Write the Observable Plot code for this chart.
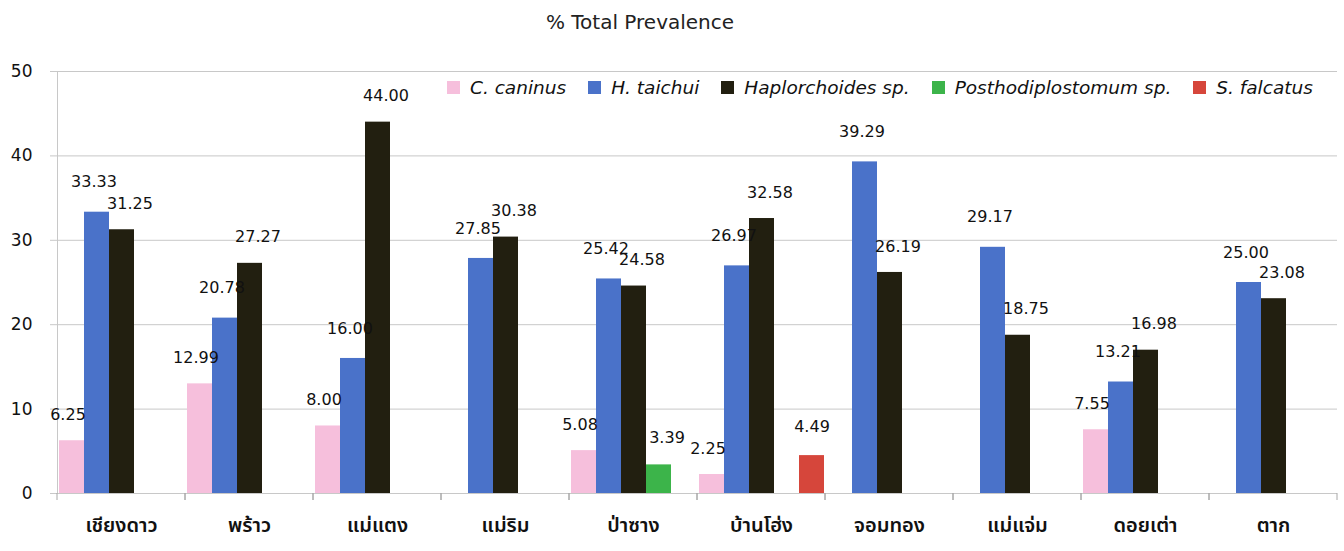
<!DOCTYPE html>
<html>
<head>
<meta charset="utf-8">
<script src="https://cdn.jsdelivr.net/npm/d3@7"></script>
<script src="https://cdn.jsdelivr.net/npm/@observablehq/plot@0.6"></script>
<style>
  body { margin: 0; background: #fff; }
  #wrap { position: relative; width: 1344px; height: 551px; overflow: hidden; }
  #title { position: absolute; top: 10px; left: 0; width: 1280px; text-align: center;
           font: 20px "DejaVu Sans", sans-serif; color: #222; }
  #legend { position: absolute; top: 77px; left: 447px; display: flex; gap: 22px;
            font: italic 18.5px "DejaVu Sans", sans-serif; color: #111; white-space: nowrap; }
  #legend .item { display: flex; align-items: center; }
  #legend .sw { width: 13px; height: 13px; margin-right: 10px; display: inline-block; }
  #chart { position: absolute; top: 0; left: 0; }
</style>
</head>
<body>
<div id="wrap">
  <div id="chart"></div>
  <div id="title">% Total Prevalence</div>
  <div id="legend"></div>
</div>
<script>
const districts = ["เชียงดาว", "พร้าว", "แม่แตง", "แม่ริม", "ป่าซาง", "บ้านโฮ่ง", "จอมทอง", "แม่แจ่ม", "ดอยเต่า", "ตาก"];
const series = ["C. caninus", "H. taichui", "Haplorchoides sp.", "Posthodiplostomum sp.", "S. falcatus"];
const colors = ["#f6bfdc", "#4a72c9", "#221f10", "#3cb44a", "#d6463b"];

const cCaninus          = [6.25, 12.99, 8.00, null, 5.08, 2.25, null, null, 7.55, null];
const hTaichui          = [33.33, 20.78, 16.00, 27.85, 25.42, 26.97, 39.29, 29.17, 13.21, 25.00];
const haplorchoides     = [31.25, 27.27, 44.00, 30.38, 24.58, 32.58, 26.19, 18.75, 16.98, 23.08];
const posthodiplostomum = [null, null, null, null, 3.39, null, null, null, null, null];
const sFalcatus         = [null, null, null, null, null, 4.49, null, null, null, null];

const yTicks = [0, 10, 20, 30, 40, 50];

// label placement style per series (pixels), mimicking the reference's data-label nudges
const labelDx = {"C. caninus": -4, "H. taichui": -3, "Haplorchoides sp.": 8, "Posthodiplostomum sp.": 8, "S. falcatus": 0};
const labelDy = {"C. caninus": -26, "H. taichui": -30, "Haplorchoides sp.": -26, "Posthodiplostomum sp.": -27, "S. falcatus": -29};

const seriesValues = [cCaninus, hTaichui, haplorchoides, posthodiplostomum, sFalcatus];
const rows = [];
districts.forEach((d, j) => {
  series.forEach((s, i) => {
    const v = seriesValues[i][j];
    if (v != null) rows.push({district: d, series: s, value: v});
  });
});

const thaiFont = "'Noto Sans Thai', Tahoma, 'DejaVu Sans', sans-serif";
const grid = "#c8c8c8";

const separators = (index, scales, values, dims) => {
  const y0 = scales.y(0);
  const g = d3.create("svg:g").attr("stroke", "#a8a8a8");
  const xl = dims.marginLeft, xr = dims.width - dims.marginRight;
  [xl, xr].forEach(x => g.append("line")
    .attr("x1", x).attr("x2", x).attr("y1", y0).attr("y2", y0 + 7));
  return g.node();
};

const labelMarks = series.map(s => Plot.text(rows.filter(r => r.series === s), {
  fx: "district", x: "series", y: "value", text: d => d.value.toFixed(2),
  dx: labelDx[s], dy: labelDy[s], fontSize: 16, fill: "#111"
}));

const chart = Plot.plot({
  width: 1344,
  height: 551,
  marginTop: 71,
  marginBottom: 58,
  marginLeft: 55,
  marginRight: 5,
  style: {fontFamily: "'DejaVu Sans', sans-serif", fontSize: "17px", color: "#111", background: "transparent"},
  fx: {domain: districts, padding: 0, label: null},
  x: {domain: series, paddingInner: 0, paddingOuter: 0.04, axis: null},
  y: {domain: [0, 50], label: null},
  color: {domain: series, range: colors},
  marks: [
    Plot.gridY(yTicks, {stroke: grid, strokeOpacity: 1}),
    Plot.axisY(yTicks, {tickSize: 7, tickPadding: 18, stroke: grid, fill: "#111", fontSize: 17, label: null}),
    Plot.frame({anchor: "left", facetAnchor: "left", stroke: grid}),
    separators,
    Plot.barY(rows, {fx: "district", x: "series", y: "value", fill: "series"}),
    ...labelMarks,
    Plot.axisFx({anchor: "bottom", tickSize: 0, tickPadding: 24, fontSize: 20, fontWeight: 600,
                 fontFamily: thaiFont, fill: "#111", label: null})
  ]
});
document.getElementById("chart").appendChild(chart);

const legend = document.getElementById("legend");
series.forEach((s, i) => {
  const item = document.createElement("span");
  item.className = "item";
  const sw = document.createElement("span");
  sw.className = "sw";
  sw.style.background = chart.scale("color").apply(s);
  item.appendChild(sw);
  item.appendChild(document.createTextNode(s));
  legend.appendChild(item);
});
</script>
</body>
</html>
